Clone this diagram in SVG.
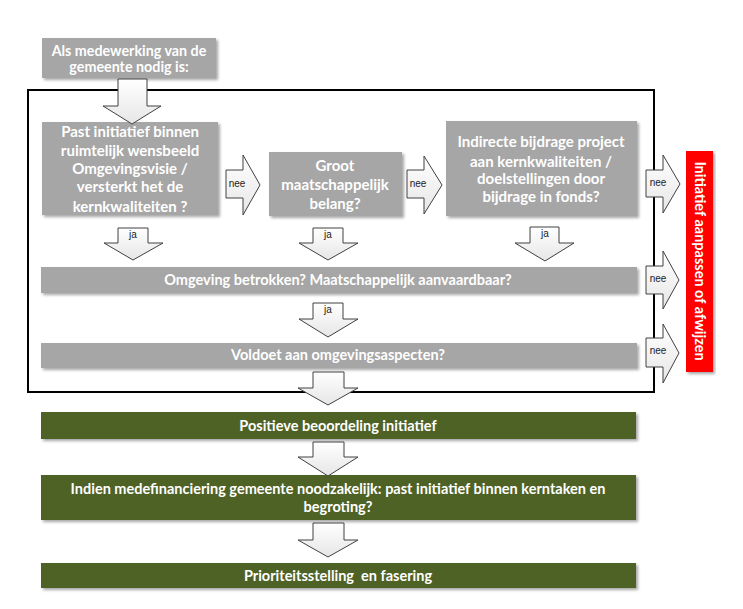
<svg xmlns="http://www.w3.org/2000/svg" width="743" height="609" viewBox="0 0 743 609">
<style>
.t{font-family:Lato,"Liberation Sans",sans-serif;font-weight:bold;fill:#ffffff;text-anchor:middle;white-space:pre}
.l{font-family:"Liberation Sans",Arial,sans-serif;font-size:10px;fill:#222;text-anchor:middle}
.gray{fill:#a6a6a6}
.green{fill:#4f6228}
.arr{fill:url(#ag);stroke:#404040;stroke-width:1}
</style>
<defs>
<filter id="sh" x="-5%" y="-20%" width="115%" height="150%">
<feDropShadow dx="2" dy="2" stdDeviation="1.5" flood-color="#000" flood-opacity="0.35"/>
</filter>
<linearGradient id="ag" x1="0" y1="0" x2="0" y2="1">
<stop offset="0" stop-color="#ffffff"/>
<stop offset="1" stop-color="#e6e6e6"/>
</linearGradient>
</defs>
<rect width="743" height="609" fill="#ffffff"/>
<g id="frame">
<rect x="28" y="90" width="626" height="302" fill="none" stroke="#000" stroke-width="2"/>
</g>
<g id="start">
<rect class="gray" x="42" y="38" width="174" height="40" filter="url(#sh)"/>
<text class="t" font-size="14.3" x="129" y="56">Als medewerking van de</text>
<text class="t" font-size="14.3" x="129" y="72">gemeente nodig is:</text>
</g>
<g id="q1">
<rect class="gray" x="42" y="122" width="176" height="93" filter="url(#sh)"/>
<text class="t" font-size="15" x="130" y="137">Past initiatief binnen</text>
<text class="t" font-size="15" x="130" y="156">ruimtelijk wensbeeld</text>
<text class="t" font-size="15" x="130" y="174">Omgevingsvisie /</text>
<text class="t" font-size="15" x="130" y="192">versterkt het de</text>
<text class="t" font-size="15" x="130" y="212">kernkwaliteiten ?</text>
</g>
<g id="q2">
<rect class="gray" x="269" y="152" width="133" height="64" filter="url(#sh)"/>
<text class="t" font-size="15" x="335" y="171">Groot</text>
<text class="t" font-size="15" x="335" y="190">maatschappelijk</text>
<text class="t" font-size="15" x="335" y="209">belang?</text>
</g>
<g id="q3">
<rect class="gray" x="446" y="121" width="191" height="95" filter="url(#sh)"/>
<text class="t" font-size="15" x="541" y="147">Indirecte bijdrage project</text>
<text class="t" font-size="15" x="541" y="167">aan kernkwaliteiten /</text>
<text class="t" font-size="15" x="541" y="184">doelstellingen door</text>
<text class="t" font-size="15" x="541" y="202">bijdrage in fonds?</text>
</g>
<g id="q4">
<rect class="gray" x="41" y="267" width="596" height="26" filter="url(#sh)"/>
<text class="t" font-size="14.5" x="338" y="285">Omgeving betrokken? Maatschappelijk aanvaardbaar?</text>
</g>
<g id="q5">
<rect class="gray" x="41" y="343" width="596" height="25" filter="url(#sh)"/>
<text class="t" font-size="14.5" x="338" y="360">Voldoet aan omgevingsaspecten?</text>
</g>
<g id="reject">
<rect x="686" y="151" width="27" height="221" fill="#ff0000" filter="url(#sh)"/>
<text class="t" font-size="14.5" transform="translate(695,261) rotate(90)" x="0" y="0">Initiatief aanpassen of afwijzen</text>
</g>
<g id="positief">
<rect class="green" x="41" y="412" width="595" height="27" filter="url(#sh)"/>
<text class="t" font-size="14.5" x="338" y="431">Positieve beoordeling initiatief</text>
</g>
<g id="financiering">
<rect class="green" x="41" y="475" width="595" height="45" filter="url(#sh)"/>
<text class="t" font-size="14.5" x="338" y="494">Indien medefinanciering gemeente noodzakelijk: past initiatief binnen kerntaken en</text>
<text class="t" font-size="14.5" x="338" y="512">begroting?</text>
</g>
<g id="prioriteit">
<rect class="green" x="41" y="563" width="595" height="25" filter="url(#sh)"/>
<text class="t" font-size="14.5" x="338" y="581">Prioriteitsstelling  en fasering</text>
</g>
<g id="connectors">
<polygon class="arr" points="118,79 147,79 147,106 161,106 132,124 103,106 118,106"/>
<polygon class="arr" points="118,228 148,228 148,243 163,243 133,260 104,243 118,243"/>
<text class="l" x="133" y="238">ja</text>
<polygon class="arr" points="313,228 343,228 343,243 358,243 328,260 299,243 313,243"/>
<text class="l" x="328" y="238">ja</text>
<polygon class="arr" points="530,227 559,227 559,243 574,243 545,261 515,243 530,243"/>
<text class="l" x="545" y="237">ja</text>
<polygon class="arr" points="313,303 343,303 343,319 358,319 328,337 299,319 313,319"/>
<text class="l" x="328" y="313">ja</text>
<polygon class="arr" points="313,372 344,372 344,388 358,388 328,405 298,388 313,388"/>
<polygon class="arr" points="313,442 344,442 344,457 358,457 328,476 298,457 313,457"/>
<polygon class="arr" points="313,523 344,523 344,540 358,540 328,557 298,540 313,540"/>
<polygon class="arr" points="226,170 243,170 243,155 260,185 243,215 243,198 226,198"/>
<text class="l" x="237" y="187">nee</text>
<polygon class="arr" points="407,170 424,170 424,156 442,185 424,214 424,198 407,198"/>
<text class="l" x="418" y="187">nee</text>
<polygon class="arr" points="646,170 663,170 663,155 680,184 663,213 663,197 646,197"/>
<text class="l" x="658" y="186">nee</text>
<polygon class="arr" points="646,266 663,266 663,251 679,280 663,309 663,294 646,294"/>
<text class="l" x="658" y="282">nee</text>
<polygon class="arr" points="646,338 663,338 663,324 679,353 663,383 663,367 646,367"/>
<text class="l" x="658" y="354">nee</text>
</g>
</svg>
